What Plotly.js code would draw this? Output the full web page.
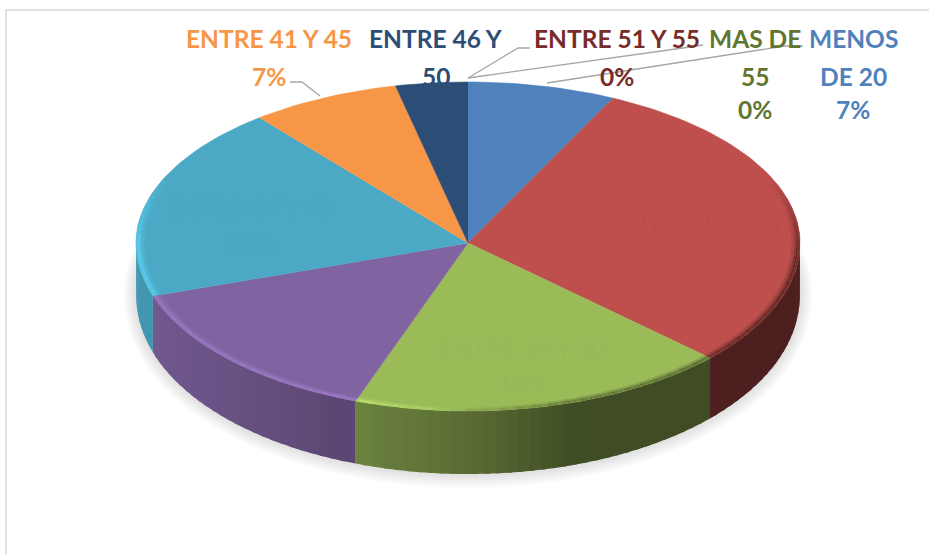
<!DOCTYPE html>
<html>
<head>
<meta charset="utf-8">
<script src="https://cdn.plot.ly/plotly-3.0.1.min.js"></script>
<style>html,body{margin:0;padding:0;background:#fff;overflow:hidden}#chart{width:929px;height:554px}</style>
</head>
<body>
<div id="chart"></div>
<script>
// ---- data ----
const categories = ['MENOS DE 20','ENTRE 20 Y 25','ENTRE 26 Y 30','ENTRE 31 Y 35','ENTRE 36 Y 40','ENTRE 41 Y 45','ENTRE 46 Y 50','ENTRE 51 Y 55','MAS DE 55'];
const percentLabels = [7,30,18,15,19,7,4,0,0];
const sliceShares = [7.2,29.8,18.5,14.4,19.3,7.3,3.5,0,0];
const sliceColors = ['#4F81BD','#BE4F4C','#9BBB59','#8064A2','#4BA9C5','#F79646','#2C4D75','#772C2A','#5F7530'];
const labelColors = ['#4F81BD','#BE4F4C','#9BBB59','#8064A2','#4BACC6','#F79646','#2C4D75','#772C2A','#5F7530'];

// ---- geometry of the tilted disc ----
const cx = 468, cy = 243, rx = 332, ryTop = 161, ryBottom = 168;
const rad = d => d * Math.PI / 180;
const depthAt = t => 48 + 15 * Math.sqrt(Math.max(0, -Math.cos(rad(t))));
function pt(t, s, withDepth, grow) {
  const c = Math.cos(rad(t)), e = grow || 0;
  const ry = c > 0 ? ryTop : ryBottom;
  return [cx + (rx * s + e) * Math.sin(rad(t)),
          cy - c * (ry * s + e) + (withDepth ? depthAt(t) : 0) + e * 0.15];
}
const hexToRgb = h => [1,3,5].map(i => parseInt(h.substr(i,2),16));
const toRgb = a => 'rgb(' + a.map(v => Math.max(0,Math.min(255,Math.round(v)))).join(',') + ')';
function interp(table, u) {
  for (let i = 1; i < table.length; i++) {
    if (u <= table[i][0]) {
      const f = (u - table[i-1][0]) / (table[i][0] - table[i-1][0]);
      return table[i-1][1] + f * (table[i][1] - table[i-1][1]);
    }
  }
  return table[table.length-1][1];
}
const sideShade = [[0,.9],[.33,.70],[.52,.57],[.66,.41],[1,.40]];
const rimLight = [[0,1.2],[.33,1.24],[.44,1.12],[.52,.9],[.66,.62],[1,.5]];
const uOf = x => Math.max(0, Math.min(1, (x - 136) / 664));

const traces = [];
function poly(points, color, lineWidth) {
  traces.push({type:'scatter', mode: lineWidth ? 'lines' : 'none', fill:'toself', fillcolor:color,
    x: points.map(p=>p[0]), y: points.map(p=>p[1]),
    line:{color:color, width:lineWidth || 0}, hoverinfo:'skip', showlegend:false});
}
function arc(a, b, s, withDepth, grow) {
  const n = Math.max(1, Math.ceil(Math.abs(b-a)/1.5)), out = [];
  for (let i = 0; i <= n; i++) out.push(pt(a + (b-a)*i/n, s, withDepth, grow));
  return out;
}

// soft shadow under the disc
[[12,'#fafafa'],[10,'#f5f5f5'],[8,'#f0f0f0'],[6,'#ebebeb'],[4,'#e6e6e6'],[2,'#e2e2e2']].forEach(([g,c]) => {
  poly(arc(75,285,1,true,g), c);
});

// slice boundaries in degrees, clockwise from the top
const total = sliceShares.reduce((a,b)=>a+b,0);
let acc = 0;
const slices = sliceShares.map((v,i) => { const a = acc; acc += v/total*360; return {a:a, b:acc, color:sliceColors[i], v:v}; }).filter(s => s.v > 0);

// side wall: later strips are painted over a slight overlap so no seams show
slices.forEach(sl => {
  const a = Math.max(sl.a, 88), b = Math.min(sl.b, 272);
  if (b <= a) return;
  const n = Math.ceil((b-a)/2), base = hexToRgb(sl.color);
  for (let i = n-1; i >= 0; i--) {
    const t0 = a+(b-a)*i/n, t1 = a+(b-a)*(i+1)/n;
    const end = i === n-1 ? t1 : t1 + 0.8;
    const k = interp(sideShade, uOf(pt((t0+t1)/2,1,false)[0]));
    poly(arc(t0,end,1,false).concat(arc(end,t0,1,true)), toRgb(base.map(v=>v*k)));
  }
});

// top face
slices.forEach(sl => {
  poly([[cx,cy]].concat(arc(sl.a, sl.b, 1, false)), sl.color, 0.6);
});

// bevel along the front of the rim
const bands = [[.975,.983,.25],[.983,.989,.6],[.989,.994,1],[.994,1.0,.8]];
slices.forEach(sl => {
  const a = Math.max(sl.a, 65), b = Math.min(sl.b, 295);
  if (b <= a) return;
  const n = Math.ceil((b-a)/3), base = hexToRgb(sl.color);
  for (let i = n-1; i >= 0; i--) {
    const t0 = a+(b-a)*i/n, t1 = a+(b-a)*(i+1)/n, tm = (t0+t1)/2;
    const end = i === n-1 ? t1 : t1 + 0.8;
    const fade = tm < 95 ? (tm-65)/30 : (tm > 270 ? (295-tm)/25 : 1);
    const L = interp(rimLight, uOf(pt(tm,1,false)[0]));
    bands.forEach(([s0,s1,w]) => {
      const k = 1 + (L-1)*w*fade;
      poly(arc(t0,end,s0,false).concat(arc(end,t0,s1,false)), toRgb(base.map(v=>v*k)));
    });
  }
});

// leader lines
const leaderX = [[290,302,320],[530,518,468],[703,690,468],[803,785,547]];
const leaderY = [[82,82,96],[48,48,78],[45,47,78],[46,46,83]];
leaderX.forEach((xs,i) => traces.push({type:'scatter',mode:'lines',x:xs,y:leaderY[i],
  line:{color:'#a6a6a6',width:1.3},hoverinfo:'skip',showlegend:false}));

// chart frame
const frameX = [6,6,929], frameY = [554,10,10];
traces.push({type:'scatter',mode:'lines',x:frameX,y:frameY,line:{color:'#e2e2e2',width:2},hoverinfo:'skip',showlegend:false});

// labels
const rowY = [38,76,109];
const labelFont = 'Lato, "Open Sans", sans-serif';
const labelSize = 24.5;
const outsideLabels = [
  {i:5, x:269, lines:['ENTRE 41 Y 45']},
  {i:6, x:436, lines:['ENTRE 46 Y','50']},
  {i:7, x:617, lines:['ENTRE 51 Y 55']},
  {i:8, x:755, lines:['MAS DE','55']},
  {i:0, x:853, lines:['MENOS','DE 20']}
];
const annotations = [];
function addText(text,x,y,color,size,weight) {
  annotations.push({text:text,x:x,y:y,xref:'x',yref:'y',showarrow:false,xanchor:'center',yanchor:'middle',
    font:{family:labelFont,size:size,color:color,weight:weight}});
}
outsideLabels.forEach(l => {
  l.lines.concat([percentLabels[l.i]+'%']).forEach((t,r) => addText(t,l.x,rowY[r],labelColors[l.i],labelSize,700));
});
// labels that sit almost invisibly on their own slice
const insideLabels = [
  {i:1,x:697,y:[223,262],c:'#BB4E4B'},
  {i:2,x:522,y:[348,383],c:'#99B958'},
  {i:3,x:287,y:[318,353],c:'#7E63A0'},
  {i:4,x:250,y:[207,243],c:'#4AA8C3'},
  {i:6,x:437,y:[null,109],c:'#2D4E76'}
];
insideLabels.forEach(l => {
  if (l.y[0] !== null) addText(categories[l.i],l.x,l.y[0],l.c,labelSize,700);
  addText(percentLabels[l.i]+'%',l.x,l.y[1],l.c,labelSize,700);
});

const axis = {visible:false,fixedrange:true};
Plotly.newPlot('chart',traces,{
  width:929,height:554,margin:{l:0,r:0,t:0,b:0,pad:0},
  paper_bgcolor:'#ffffff',plot_bgcolor:'#ffffff',showlegend:false,
  xaxis:Object.assign({range:[0,929]},axis),
  yaxis:Object.assign({range:[554,0]},axis),
  annotations:annotations
},{displayModeBar:false,staticPlot:true});
</script>
</body>
</html>
